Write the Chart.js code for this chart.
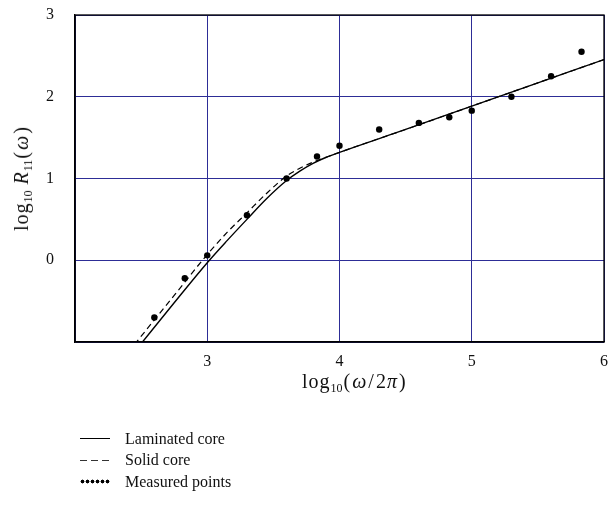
<!DOCTYPE html>
<html>
<head>
<meta charset="utf-8">
<script src="https://cdn.jsdelivr.net/npm/chart.js@4"></script>
<style>
  html, body { margin: 0; padding: 0; background: #fff; }
  #wrap { position: relative; width: 610px; height: 506px; font-family: 'Liberation Serif', serif; color: #111; }
  #chart { position: absolute; left: 0; top: 0; }
  .xtitle { position: absolute; left: 302px; top: 370px; white-space: nowrap; font-size: 20px; letter-spacing: 1px; }
  .ytitle { position: absolute; left: 23px; top: 178px; transform: translate(-50%, -50%) rotate(-90deg); white-space: nowrap; font-size: 20px; letter-spacing: 1px; }
  sub { font-size: 12px; vertical-align: -4px; letter-spacing: 0; }
  .m { margin: 0 1px; }
  #legend { position: absolute; left: 80px; top: 428px; font-size: 16px; }
  .row { display: flex; align-items: center; height: 21.5px; }
  .sw { width: 30px; height: 7px; margin-right: 15px; position: relative; }
  .sw.solid::after { content: ''; position: absolute; left: 0; right: 0; top: 3px; border-top: 1.3px solid #000; }
  .sw.dash { background: repeating-linear-gradient(90deg, #333 0 7px, transparent 7px 11px) 0 3px / 100% 1.3px no-repeat; }
  .sw.dots { background: radial-gradient(circle, #000 1.7px, transparent 2.2px) 0 0 / 5px 7px repeat-x; }
</style>
</head>
<body>
<div id="wrap">
  <canvas id="chart" width="610" height="506"></canvas>
  <div class="xtitle">log<sub>10</sub><span class="m">(</span><i>ω</i><span class="m">/</span>2<i>π</i><span class="m">)</span></div>
  <div class="ytitle">log<sub>10</sub> <i>R</i><sub>11</sub><span class="m">(</span><i>ω</i><span class="m">)</span></div>
  <div id="legend"></div>
</div>
<script>
// log10 of frequency
const lamX = [2.50, 2.75, 3.00, 3.15, 3.30, 3.45, 3.60, 3.70, 3.80, 3.90, 4.00, 4.50, 5.00, 5.50, 6.00];
const lamY = [-1.02, -0.52, -0.03, 0.24, 0.50, 0.755, 0.975, 1.09, 1.185, 1.26, 1.32, 1.60, 1.885, 2.17, 2.455];

const solidX = [2.45, 2.75, 3.00, 3.15, 3.30, 3.45, 3.60, 3.70, 3.80, 3.90, 4.00, 4.50, 5.00, 5.50, 6.00];
const solidY = [-1.03, -0.43, 0.07, 0.34, 0.58, 0.82, 1.03, 1.125, 1.20, 1.26, 1.32, 1.60, 1.885, 2.17, 2.455];

const measX = [2.60, 2.83, 3.00, 3.30, 3.60, 3.83, 4.00, 4.30, 4.60, 4.83, 5.00, 5.30, 5.60, 5.83];
const measY = [-0.70, -0.22, 0.06, 0.55, 1.00, 1.27, 1.40, 1.60, 1.68, 1.75, 1.83, 2.00, 2.25, 2.55];

const seriesNames = ['Laminated core', 'Solid core', 'Measured points'];
const xTicks = [3, 4, 5, 6];
const yTicks = [0, 1, 2, 3];

const toPts = (xs, ys) => xs.map((x, i) => ({ x: x, y: ys[i] }));
const font = { family: "'Liberation Serif', serif", size: 16 };
const gridColor = 'rgb(45, 45, 150)';

const framePlugin = {
  id: 'frame',
  afterDatasetsDraw(chart) {
    const { ctx, chartArea: a } = chart;
    ctx.save();
    ctx.strokeStyle = '#000';
    ctx.lineWidth = 1.3;
    ctx.strokeRect(a.left, a.top, a.right - a.left, a.bottom - a.top);
    ctx.restore();
  }
};

const chart = new Chart(document.getElementById('chart'), {
  type: 'scatter',
  data: {
    datasets: [
      {
        label: seriesNames[0],
        data: toPts(lamX, lamY),
        showLine: true,
        borderColor: '#000',
        borderWidth: 1.4,
        pointRadius: 0,
        cubicInterpolationMode: 'monotone',
      },
      {
        label: seriesNames[1],
        data: toPts(solidX, solidY),
        showLine: true,
        borderColor: '#000',
        borderWidth: 1.2,
        borderDash: [6, 4],
        pointRadius: 0,
        cubicInterpolationMode: 'monotone',
      },
      {
        label: seriesNames[2],
        data: toPts(measX, measY),
        showLine: false,
        backgroundColor: '#000',
        borderColor: '#000',
        pointRadius: 3.2,
        pointBorderWidth: 0,
      },
    ],
  },
  options: {
    responsive: false,
    animation: false,
    layout: { padding: { top: 15, right: 6, left: 0, bottom: 0 } },
    plugins: { legend: { display: false }, tooltip: { enabled: false } },
    scales: {
      x: {
        type: 'linear',
        min: 2,
        max: 6,
        afterFit(scale) { scale.height = 164; scale.paddingLeft = 0; scale.paddingRight = 0; },
        afterBuildTicks(scale) { scale.ticks = [2, ...xTicks].map(v => ({ value: v })); },
        ticks: {
          padding: 10,
          color: '#111',
          font: font,
          maxRotation: 0,
          callback: v => (xTicks.includes(v) ? String(v) : ''),
        },
        grid: { color: gridColor, lineWidth: 1, drawTicks: false },
        border: { color: '#000', width: 1.3 },
      },
      y: {
        type: 'linear',
        min: -1,
        max: 3,
        afterFit(scale) { scale.width = 75; scale.paddingTop = 0; scale.paddingBottom = 0; },
        afterBuildTicks(scale) { scale.ticks = [-1, ...yTicks].map(v => ({ value: v })); },
        ticks: {
          padding: 21,
          color: '#111',
          font: font,
          callback: v => (yTicks.includes(v) ? String(v) : ''),
        },
        grid: { color: gridColor, lineWidth: 1, drawTicks: false },
        border: { color: '#000', width: 1.3 },
      },
    },
  },
  plugins: [framePlugin],
});

// html legend from the datasets
const swClass = ['solid', 'dash', 'dots'];
const legend = document.getElementById('legend');
chart.data.datasets.forEach((ds, i) => {
  const row = document.createElement('div');
  row.className = 'row';
  const sw = document.createElement('span');
  sw.className = 'sw ' + swClass[i];
  const txt = document.createElement('span');
  txt.textContent = ds.label;
  row.appendChild(sw);
  row.appendChild(txt);
  legend.appendChild(row);
});
</script>
</body>
</html>
